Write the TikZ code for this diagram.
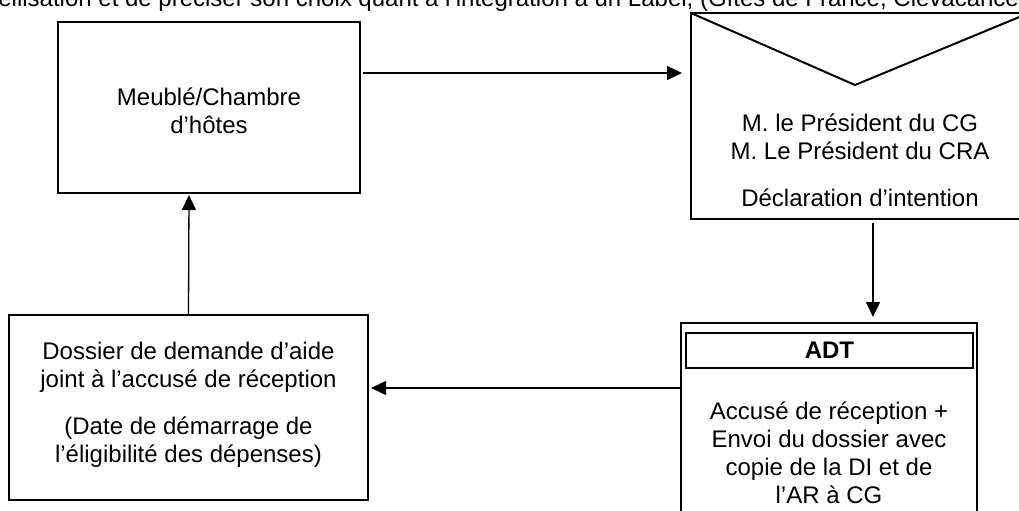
\documentclass[tikz,border=0pt]{standalone}
\usepackage{fontspec}
\setmainfont{Liberation Sans}
\usepackage{tikz}
\usetikzlibrary{arrows.meta}

\begin{document}
\begin{tikzpicture}[x=0.5pt,y=-0.5pt,>={Triangle[length=7.5pt,width=7pt]},
  box/.style={draw,line width=1pt,inner sep=0pt,outer sep=0pt},
  txt/.style={align=center,font=\fontsize{12}{14}\selectfont},
  link/.style={->,line width=0.65pt}]
  \useasboundingbox (0,0) rectangle (1019,510);
  \clip (0,0) rectangle (1019,510);
  \node[anchor=base west,font=\fontsize{12}{14}\selectfont,inner sep=0pt] (topline) at (-2,6) {ellisation et de préciser son choix quant à l’intégration à un Label, (Gîtes de France, Clévacances};
  \node[box,minimum width=151pt,minimum height=85.5pt] (meuble) at (209,107.5) {};
  \node[txt] (meubletext) at (209,111) {Meublé/Chambre\\d’hôtes};
  \node[box,minimum width=169pt,minimum height=103pt] (env) at (860,116) {};
  \coordinate (flap) at (855,85);
  \draw[line width=1pt] (env.north west) -- (flap) -- (env.north east);
  \node[txt] (envtext) at (860,160) {M. le Président du CG\\M. Le Président du CRA\\[9.5pt]Déclaration d’intention};
  \node[box,minimum width=148pt,minimum height=101pt] (adt) at (829,424) {};
  \node[box,minimum width=143.5pt,minimum height=17.5pt,font=\fontsize{12}{14}\selectfont\bfseries] (adthead) at (829.5,350.5) {ADT};
  \node[txt] (adttext) at (829,453) {Accusé de réception +\\Envoi du dossier avec\\copie de la DI et de\\l’AR à CG};
  \node[box,minimum width=179.5pt,minimum height=92.5pt] (dossier) at (188.5,407.5) {};
  \node[txt] (dossiertext) at (188.5,405) {Dossier de demande d’aide\\joint à l’accusé de réception\\[9.5pt](Date de démarrage de\\l’éligibilité des dépenses)};
  \draw[link,shorten <=1.5pt,shorten >=4.5pt] ([yshift=17.25pt]meuble.east) -- ([yshift=21.5pt]env.west);
  \draw[link,shorten <=2pt,shorten >=3pt] ([xshift=6.5pt]env.south) -- ([xshift=22pt]adt.north);
  \draw[link,shorten >=1.5pt] ([yshift=18pt]adt.west) -- ([yshift=9.75pt]dossier.east);
  \draw[link,shorten >=1pt] (dossier.north) -- ([xshift=-10pt]meuble.south);
\end{tikzpicture}
\end{document}
